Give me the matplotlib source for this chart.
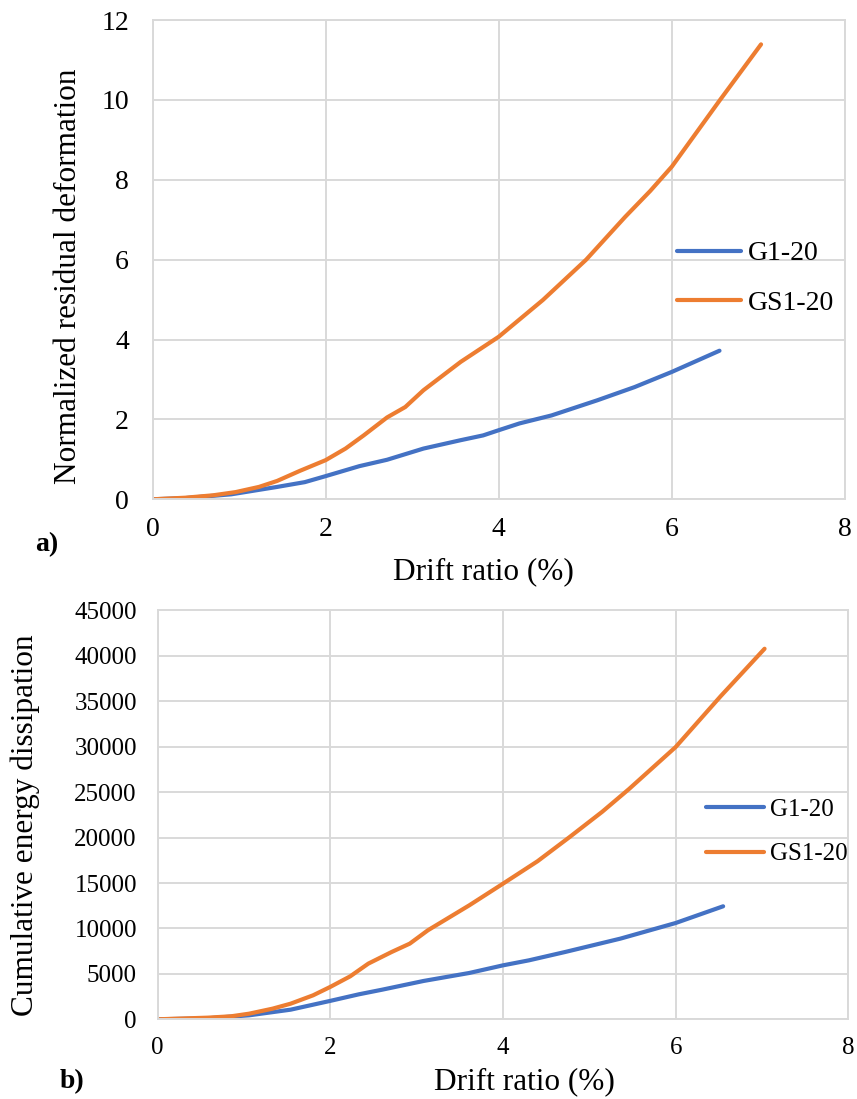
import matplotlib
matplotlib.use("Agg")
import matplotlib.pyplot as plt

plt.rcParams['font.family'] = ['Liberation Serif', 'DejaVu Serif']

# ---- data: panel a) normalized residual deformation ----
g1_res_x = [0, 0.38, 0.91, 1.44, 1.76, 2.0, 2.39, 2.71, 3.13, 3.56, 3.82, 4.0, 4.24,
            4.61, 5.14, 5.57, 6.0, 6.55]
g1_res_y = [0, 0.03, 0.125, 0.31, 0.43, 0.58, 0.83, 0.99, 1.27, 1.48, 1.60, 1.73, 1.90,
            2.10, 2.48, 2.81, 3.19, 3.72]
gs1_res_x = [0, 0.38, 0.70, 0.96, 1.23, 1.44, 1.70, 2.0, 2.23, 2.44, 2.71, 2.92, 3.13,
             3.56, 4.0, 4.51, 5.01, 5.46, 5.75, 6.0, 6.55, 7.03]
gs1_res_y = [0, 0.04, 0.10, 0.18, 0.31, 0.46, 0.71, 0.98, 1.27, 1.60, 2.05, 2.31, 2.73,
             3.44, 4.07, 4.99, 6.0, 7.07, 7.72, 8.33, 9.98, 11.39]

# ---- data: panel b) cumulative energy dissipation ----
g1_en_x = [0, 0.58, 1.06, 1.54, 2.0, 2.33, 2.6, 3.08, 3.61, 4.0, 4.30, 4.72, 5.36, 6.0, 6.55]
g1_en_y = [0, 110, 440, 1060, 2030, 2750, 3260, 4220, 5100, 5940, 6490, 7410, 8880, 10600, 12440]
gs1_en_x = [0, 0.58, 0.85, 1.06, 1.33, 1.54, 1.80, 2.0, 2.23, 2.44, 2.71, 2.92, 3.13, 3.61,
            4.0, 4.40, 4.77, 5.15, 5.46, 6.0, 6.52, 7.03]
gs1_en_y = [0, 180, 330, 620, 1170, 1720, 2640, 3570, 4730, 6130, 7410, 8330, 9800, 12550,
            14930, 17400, 20050, 22850, 25350, 29970, 35550, 40790]

series_labels = ["G1-20", "GS1-20"]
x_ticks = [0, 2, 4, 6, 8]
res_ticks = [0, 2, 4, 6, 8, 10, 12]
en_ticks = [0, 5000, 10000, 15000, 20000, 25000, 30000, 35000, 40000, 45000]

BLUE = "#4472C4"
ORANGE = "#ED7D31"
GRID = "#D9D9D9"

W, H = 857, 1099
fig = plt.figure(figsize=(W / 100, H / 100), dpi=100)

def fx(px):
    return px / W

def fy(py):
    return 1 - py / H

def style(ax, tick_fs, ypad, xpad):
    ax.grid(True, color=GRID, linewidth=1.4)
    ax.set_axisbelow(True)
    for s in ax.spines.values():
        s.set_color(GRID)
        s.set_linewidth(1.4)
    ax.tick_params(axis='both', length=0, labelsize=tick_fs)
    ax.tick_params(axis='y', pad=ypad)
    ax.tick_params(axis='x', pad=xpad)

line_kw = dict(lw=3.0, solid_capstyle='round', solid_joinstyle='round')

# panel a
ax1 = fig.add_axes([fx(152.5), fy(499.3), fx(845) - fx(152.5), fy(20) - fy(499.3)])
ax1.plot(g1_res_x, g1_res_y, color=BLUE, label=series_labels[0], **line_kw)
ax1.plot(gs1_res_x, gs1_res_y, color=ORANGE, label=series_labels[1], **line_kw)
ax1.set_xlim(0, 8)
ax1.set_ylim(0, 12)
ax1.set_xticks(x_ticks)
ax1.set_yticks(res_ticks)
style(ax1, 20, 17, 13)
ax1.legend(loc='upper left', bbox_to_anchor=(fx(677), fy(241)), bbox_transform=fig.transFigure,
           frameon=False, fontsize=20, handlelength=2.3, handletextpad=0.25,
           labelspacing=0.85, borderpad=0, borderaxespad=0)

# panel b
ax2 = fig.add_axes([fx(157.7), fy(1019.3), fx(848.3) - fx(157.7), fy(610.5) - fy(1019.3)])
ax2.plot(g1_en_x, g1_en_y, color=BLUE, label=series_labels[0], **line_kw)
ax2.plot(gs1_en_x, gs1_en_y, color=ORANGE, label=series_labels[1], **line_kw)
ax2.set_xlim(0, 8)
ax2.set_ylim(0, 45000)
ax2.set_xticks(x_ticks)
ax2.set_yticks(en_ticks)
style(ax2, 18, 15, 13)
ax2.legend(loc='upper left', bbox_to_anchor=(fx(706), fy(798)), bbox_transform=fig.transFigure,
           frameon=False, fontsize=18, handlelength=2.3, handletextpad=0.25,
           labelspacing=0.9, borderpad=0, borderaxespad=0)

# labels
fig.text(fx(483), fy(572), "Drift ratio (%)", fontsize=22.5, ha='center', va='center')
fig.text(fx(524), fy(1082), "Drift ratio (%)", fontsize=22.5, ha='center', va='center')
fig.text(fx(69), fy(276), "Normalized residual deformation", fontsize=22.5,
         rotation=90, ha='center', va='center')
fig.text(fx(25), fy(825), "Cumulative energy dissipation", fontsize=22.5,
         rotation=90, ha='center', va='center')
fig.text(fx(35), fy(545), "a)", fontsize=20, fontweight='bold', ha='left', va='center')
fig.text(fx(60), fy(1082), "b)", fontsize=20, fontweight='bold', ha='left', va='center')

fig.savefig("out.png", dpi=100)
